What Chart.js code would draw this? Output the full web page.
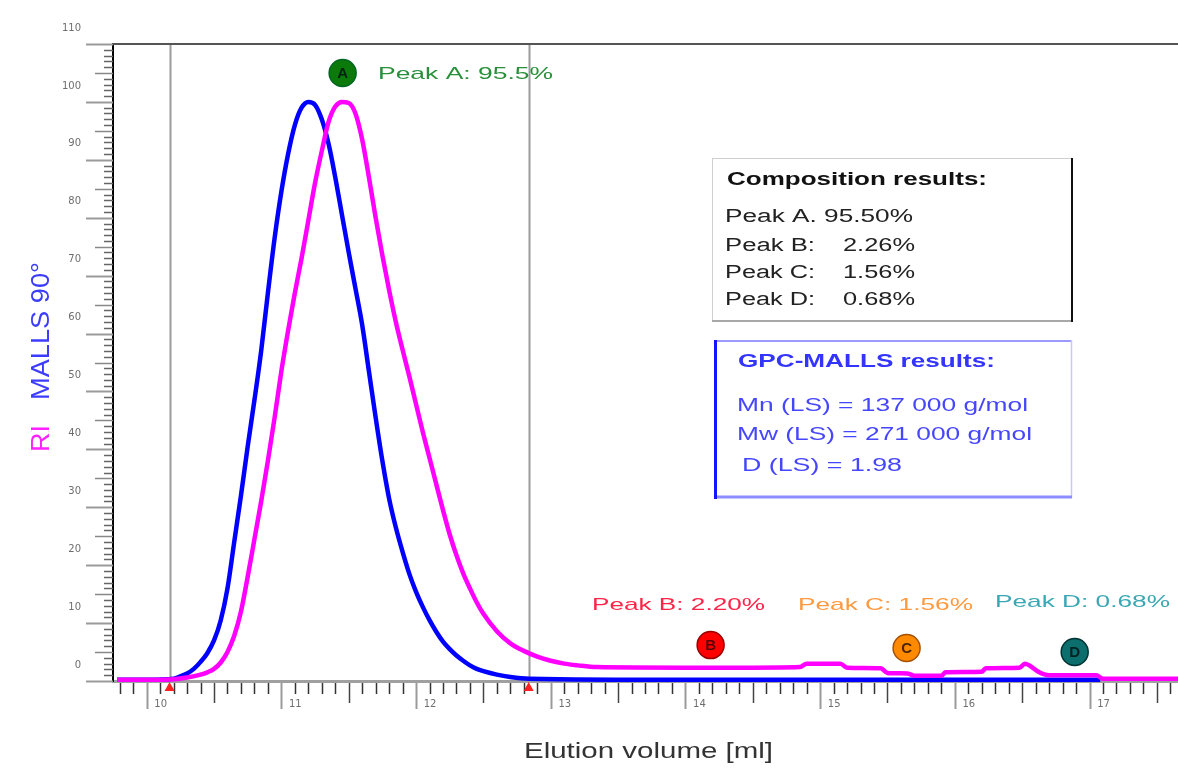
<!DOCTYPE html>
<html>
<head>
<meta charset="utf-8">
<script src="https://cdn.jsdelivr.net/npm/chart.js@4.4.1/dist/chart.umd.min.js"></script>
<style>
html,body{margin:0;padding:0;background:#fff;}
canvas{display:block;}
</style>
</head>
<body>
<canvas id="c" width="1178" height="774"></canvas>
<script>
// ---------- data ----------
const mallsVolume = [9.78, 10.00, 10.20, 10.25, 10.30, 10.35, 10.40, 10.45, 10.50, 10.55, 10.60, 10.65, 10.70, 10.75, 10.80, 10.85, 10.90, 10.95, 11.00, 11.05, 11.10, 11.15, 11.20, 11.25, 11.30, 11.35, 11.40, 11.45, 11.50, 11.55, 11.60, 11.65, 11.70, 11.75, 11.80, 11.85, 11.90, 11.95, 12.00, 12.05, 12.10, 12.15, 12.20, 12.25, 12.30, 12.35, 12.40, 12.45, 12.50, 12.60, 12.70, 12.84, 14.00, 15.50, 17.08];
const mallsSignal = [0.2, 0.2, 0.4, 0.8, 1.3, 2.1, 3.3, 4.8, 7.0, 10.5, 16.0, 24.0, 32.0, 40.5, 48.5, 57.0, 67.0, 76.5, 84.5, 91.0, 96.0, 99.0, 100.0, 99.5, 97.0, 92.8, 87.0, 80.5, 74.0, 67.8, 61.5, 53.5, 45.5, 38.0, 31.5, 26.5, 22.3, 18.5, 15.4, 12.8, 10.5, 8.5, 6.8, 5.5, 4.4, 3.5, 2.7, 2.1, 1.7, 1.1, 0.7, 0.4, 0.2, 0.2, 0.2];

const riVolume = [9.78, 10.00, 10.20, 10.30, 10.40, 10.45, 10.50, 10.55, 10.60, 10.65, 10.70, 10.75, 10.80, 10.85, 10.90, 10.95, 11.00, 11.05, 11.10, 11.15, 11.20, 11.25, 11.30, 11.35, 11.40, 11.45, 11.50, 11.55, 11.60, 11.65, 11.70, 11.75, 11.80, 11.85, 11.90, 11.95, 12.00, 12.05, 12.10, 12.15, 12.20, 12.25, 12.30, 12.35, 12.40, 12.45, 12.50, 12.60, 12.70, 12.80, 12.90, 13.00, 13.10, 13.20, 13.34, 14.00, 14.50, 14.85, 14.90, 15.15, 15.20, 15.45, 15.50, 15.65, 15.70, 15.90, 15.93, 16.20, 16.23, 16.48, 16.52, 16.56, 16.62, 16.70, 17.05, 17.10, 17.66];
const riSignal = [0.2, 0.2, 0.3, 0.6, 1.1, 1.5, 2.1, 3.2, 5.0, 7.8, 12.0, 18.0, 24.5, 31.0, 38.0, 45.5, 53.5, 60.5, 67.0, 73.0, 79.5, 86.0, 91.5, 96.5, 99.2, 100.0, 99.8, 98.0, 93.5, 87.0, 80.0, 73.5, 67.5, 62.0, 57.2, 52.6, 47.8, 43.0, 38.5, 34.0, 29.5, 25.3, 21.7, 18.6, 16.0, 13.6, 11.6, 8.6, 6.5, 5.2, 4.2, 3.5, 3.0, 2.7, 2.4, 2.3, 2.3, 2.4, 3.0, 3.0, 2.3, 2.2, 1.4, 1.3, 0.9, 0.9, 1.5, 1.6, 2.2, 2.3, 3.0, 2.6, 1.6, 1.0, 1.0, 0.4, 0.4];

const peakLetters = ['A', 'B', 'C', 'D'];
const peakVolume = [11.455, 14.187, 15.642, 16.89];
const peakMarkerHeight = [105.0, 6.2, 5.7, 5.0];
const peakLabels = ['Peak A: 95.5%', 'Peak B: 2.20%', 'Peak C: 1.56%', 'Peak D: 0.68%'];
const peakFill = ['#0b7a0b', '#ff0000', '#ff8a00', '#0d6e6e'];
const peakEdge = ['#062', '#900', '#a55000', '#033'];
const peakLetterColor = ['#021', '#5a0000', '#4a2500', '#022'];
const peakLabelColor = ['#2a8f3a', '#ff2448', '#ff9a40', '#3aa8b4'];

const integrationLimits = [10.17, 12.836];

const compositionTitle = 'Composition results:';
const compositionNames = ['Peak A.', 'Peak B:', 'Peak C:', 'Peak D:'];
const compositionValues = ['95.50%', '2.26%', '1.56%', '0.68%'];

const mallsTitle = 'GPC-MALLS results:';
const mallsLines = ['Mn (LS) = 137 000 g/mol', 'Mw (LS) = 271 000 g/mol', 'D (LS) = 1.98'];

const xTitle = 'Elution volume [ml]';
const yTitleRI = 'RI';
const yTitleMALLS = 'MALLS 90°';

// ---------- helpers ----------
const FONT = '"Liberation Sans", Arial, sans-serif';
function fitText(ctx, text, x, y, w, font, color, align) {
  ctx.save();
  ctx.font = font;
  ctx.fillStyle = color;
  ctx.textBaseline = 'middle';
  ctx.textAlign = 'left';
  const m = ctx.measureText(text).width;
  const s = w / m;
  ctx.translate(align === 'right' ? x - w : x, y);
  ctx.scale(s, 1);
  ctx.fillText(text, 0, 0);
  ctx.restore();
}
function seg(ctx, x1, y1, x2, y2, color, w) {
  ctx.beginPath();
  ctx.strokeStyle = color;
  ctx.lineWidth = w;
  ctx.moveTo(x1, y1);
  ctx.lineTo(x2, y2);
  ctx.stroke();
}

const decor = {
  id: 'decor',
  beforeDatasetsDraw(chart) {
    const { ctx, chartArea: ca, scales: { x } } = chart;
    ctx.save();
    integrationLimits.forEach(v => {
      const px = Math.round(x.getPixelForValue(v)) + 0.5;
      seg(ctx, px, ca.top, px, ca.bottom, '#9c9c9c', 2);
    });
    ctx.restore();
  },
  afterDatasetsDraw(chart) {
    const { ctx } = chart;
    const meta = chart.getDatasetMeta(0);
    ctx.save();
    meta.data.forEach((pt, i) => {
      ctx.font = 'bold 15px ' + FONT;
      ctx.fillStyle = peakLetterColor[i];
      ctx.textAlign = 'center';
      ctx.textBaseline = 'middle';
      ctx.fillText(peakLetters[i], pt.x, pt.y + 1);
    });
    ctx.restore();
  },
  afterDraw(chart) {
    const { ctx, chartArea: ca, scales: { x, y } } = chart;
    ctx.save();
    // x ticks (below axis)
    for (let i = Math.ceil(x.min * 10); i <= Math.floor(x.max * 10); i++) {
      const px = Math.round(x.getPixelForValue(i / 10)) + 0.5;
      let len = 11, col = '#333', w = 1.5;
      if (i % 10 === 0) { len = 26; col = '#9a9a9a'; w = 2; }
      else if (i % 5 === 0) { len = 20; col = '#444'; w = 1.5; }
      seg(ctx, px, ca.bottom + 2, px, ca.bottom + 2 + len, col, w);
    }
    // y ticks (left of axis)
    for (let v = 0; v <= 110; v++) {
      const py = Math.round(y.getPixelForValue(v)) + 0.5;
      let len = 9, col = '#666', w = 1.5;
      if (v % 10 === 0) { len = 27; col = '#9a9a9a'; w = 2; }
      else if (v % 5 === 0) { len = 18; col = '#888'; w = 1.5; }
      seg(ctx, ca.left - len, py, ca.left, py, col, w);
    }
    // top frame
    seg(ctx, ca.left, ca.top, ca.right, ca.top, '#555', 2);
    // red triangles
    integrationLimits.forEach(v => {
      const px = x.getPixelForValue(v);
      ctx.beginPath();
      ctx.fillStyle = '#ff2020';
      ctx.moveTo(px - 5, ca.bottom + 10);
      ctx.lineTo(px + 5, ca.bottom + 10);
      ctx.lineTo(px, ca.bottom + 1);
      ctx.closePath();
      ctx.fill();
    });
    // peak labels
    const labelPos = [[378, 74, 175], [592, 605, 173], [798, 605, 175], [995, 602, 175]];
    peakLabels.forEach((t, i) => {
      fitText(ctx, t, labelPos[i][0], labelPos[i][1], labelPos[i][2], '17px ' + FONT, peakLabelColor[i]);
    });
    // composition box
    ctx.fillStyle = '#fff';
    ctx.fillRect(712, 158, 361, 164);
    seg(ctx, 712, 158.5, 1073, 158.5, '#cfcfcf', 1);
    seg(ctx, 712.5, 158, 712.5, 322, '#cfcfcf', 1);
    seg(ctx, 712, 321, 1073, 321, '#a8a8a8', 2);
    seg(ctx, 1072, 158, 1072, 322, '#111', 2);
    fitText(ctx, compositionTitle, 727, 180, 260, 'bold 18px ' + FONT, '#111');
    const rowsY = [217, 246, 273, 300];
    compositionNames.forEach((n, i) => {
      if (i === 0) {
        fitText(ctx, n + ' ' + compositionValues[i], 725, rowsY[i], 188, '18px ' + FONT, '#222');
      } else {
        fitText(ctx, n, 725, rowsY[i], 90, '18px ' + FONT, '#222');
        fitText(ctx, compositionValues[i], 915, rowsY[i], 72, '18px ' + FONT, '#222', 'right');
      }
    });
    // GPC-MALLS box
    ctx.fillStyle = '#fff';
    ctx.fillRect(714, 340, 358, 158);
    seg(ctx, 714, 341, 1072, 341, '#9a9aff', 2);
    seg(ctx, 1071.5, 340, 1071.5, 498, '#c8c8ff', 1.5);
    seg(ctx, 714, 497, 1072, 497, '#8c8cff', 3);
    seg(ctx, 715.5, 340, 715.5, 499, '#1414ff', 3);
    fitText(ctx, mallsTitle, 738, 362, 257, 'bold 18px ' + FONT, '#3434ff');
    fitText(ctx, mallsLines[0], 737, 406, 291, '18px ' + FONT, '#4646ff');
    fitText(ctx, mallsLines[1], 737, 435, 295, '18px ' + FONT, '#4646ff');
    fitText(ctx, mallsLines[2], 742, 466, 160, '18px ' + FONT, '#4646ff');
    // axis titles
    fitText(ctx, xTitle, 524, 752, 249, '22px ' + FONT, '#333');
    ctx.save();
    ctx.translate(42, 452);
    ctx.rotate(-Math.PI / 2);
    ctx.textBaseline = 'middle';
    ctx.textAlign = 'left';
    ctx.font = '26px ' + FONT;
    ctx.fillStyle = '#ff22ff';
    let m = ctx.measureText(yTitleRI).width;
    ctx.save(); ctx.scale(27 / m, 1); ctx.fillText(yTitleRI, 0, 0); ctx.restore();
    ctx.fillStyle = '#3c3cff';
    m = ctx.measureText(yTitleMALLS).width;
    ctx.save(); ctx.translate(52, 0); ctx.scale(138 / m, 1); ctx.fillText(yTitleMALLS, 0, 0); ctx.restore();
    ctx.restore();
    ctx.restore();
  }
};

const toXY = (xs, ys) => xs.map((v, i) => ({ x: v, y: ys[i] }));

new Chart(document.getElementById('c'), {
  type: 'line',
  data: {
    datasets: [
      {
        type: 'scatter',
        label: 'Peaks',
        data: toXY(peakVolume, peakMarkerHeight),
        pointRadius: 13.5,
        pointHoverRadius: 13.5,
        backgroundColor: peakFill,
        borderColor: peakEdge,
        borderWidth: 1.5,
        order: 0,
        clip: false
      },
      {
        label: 'RI',
        data: toXY(riVolume, riSignal),
        borderColor: '#ff00ff',
        borderWidth: 4.5,
        pointRadius: 0,
        fill: false,
        cubicInterpolationMode: 'monotone',
        order: 1,
        clip: false
      },
      {
        label: 'MALLS 90°',
        data: toXY(mallsVolume, mallsSignal),
        borderColor: '#0000ff',
        borderWidth: 4.5,
        pointRadius: 0,
        fill: false,
        cubicInterpolationMode: 'monotone',
        order: 2,
        clip: false
      }
    ]
  },
  options: {
    responsive: false,
    animation: false,
    devicePixelRatio: 1,
    layout: { autoPadding: false, padding: { top: 44, right: 0, left: 0, bottom: 0 } },
    plugins: { legend: { display: false }, tooltip: { enabled: false } },
    events: [],
    scales: {
      x: {
        type: 'linear',
        min: 9.75,
        max: 17.657,
        afterFit: s => { s.height = 93; },
        ticks: {
          stepSize: 1,
          includeBounds: false,
          autoSkip: false,
          maxRotation: 0,
          padding: 17,
          labelOffset: 14,
          color: '#6e6e6e',
          font: { family: 'DejaVu Sans', size: 10 }
        },
        grid: { drawOnChartArea: false, drawTicks: false },
        border: { display: true, color: '#a0a0a0', width: 3 }
      },
      y: {
        type: 'linear',
        min: 0,
        max: 110,
        afterFit: s => { s.width = 113; },
        ticks: {
          stepSize: 10,
          padding: 32,
          labelOffset: -16,
          color: '#6e6e6e',
          font: { family: 'DejaVu Sans', size: 10 }
        },
        grid: { drawOnChartArea: false, drawTicks: false },
        border: { display: true, color: '#000', width: 2 }
      }
    }
  },
  plugins: [decor]
});
</script>
</body>
</html>
